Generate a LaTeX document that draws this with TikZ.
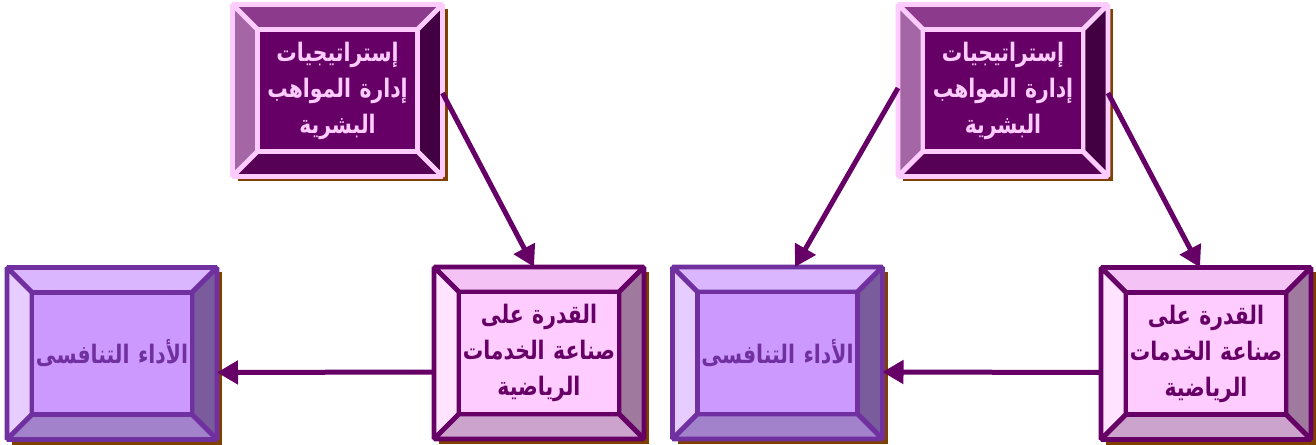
\documentclass[tikz,border=0pt]{standalone}
\usepackage{fontspec}
\newfontfamily\arabicfont[Script=Arabic,FakeStretch=0.8]{DejaVu Sans}
\TeXXeTstate=1
\usetikzlibrary{arrows.meta,backgrounds}

% colours of the three kinds of box
\definecolor{stedge}{HTML}{FFCCFF}
\definecolor{stin}{HTML}{660066}
\definecolor{sttop}{HTML}{8C3A8C}
\definecolor{stleft}{HTML}{A466A4}
\definecolor{stright}{HTML}{420042}
\definecolor{stbot}{HTML}{560056}
\definecolor{pfedge}{HTML}{7030A0}
\definecolor{pfin}{HTML}{CC99FF}
\definecolor{pftop}{HTML}{D9B6FF}
\definecolor{pfleft}{HTML}{E6CCFF}
\definecolor{pfright}{HTML}{7A5C9C}
\definecolor{pfbot}{HTML}{A382CC}
\definecolor{abedge}{HTML}{660066}
\definecolor{abin}{HTML}{FFCCFF}
\definecolor{abtop}{HTML}{F5C2F5}
\definecolor{ableft}{HTML}{FFE3FF}
\definecolor{abright}{HTML}{A07A9E}
\definecolor{abbot}{HTML}{CCA3CC}
\definecolor{shadowc}{HTML}{804000}
\definecolor{arrc}{HTML}{660066}

\tikzset{
  box/.style={rectangle,minimum width=3.2cm,minimum height=2.44cm,text width=3.2cm,inner sep=0pt,outer sep=5mm,
              line width=2.7pt,align=center,font=\arabicfont\bfseries\fontsize{14.5}{20.5}\selectfont},
  strat/.style={box,draw=stedge,fill=stin,text=stedge},
  perf/.style={box,draw=pfedge,fill=pfin,text=pfedge},
  abil/.style={box,draw=abedge,fill=abin,text=abedge},
  bev/.style={line width=2.7pt,line join=bevel},
  shadowfill/.style={fill=shadowc},
  arr/.style={-{Triangle[length=4.2mm,width=4.6mm]},line width=1mm,draw=arrc},
}

% bevel frame behind a box: node, edge, top, left, right, bottom
\newcommand{\bevelframe}[6]{%
  \begin{scope}[on background layer]
    \fill[shadowfill] ([shift={(0.1,-0.1)}]#1.south west) rectangle ([shift={(0.1,-0.1)}]#1.north east);
    \filldraw[bev,draw=#2,fill=#3] (#1.north west) -- (#1.north east)
      -- ([shift={(-0.5,-0.5)}]#1.north east) -- ([shift={(0.5,-0.5)}]#1.north west) -- cycle;
    \filldraw[bev,draw=#2,fill=#4] (#1.north west) -- (#1.south west)
      -- ([shift={(0.5,0.5)}]#1.south west) -- ([shift={(0.5,-0.5)}]#1.north west) -- cycle;
    \filldraw[bev,draw=#2,fill=#5] (#1.north east) -- (#1.south east)
      -- ([shift={(-0.5,0.5)}]#1.south east) -- ([shift={(-0.5,-0.5)}]#1.north east) -- cycle;
    \filldraw[bev,draw=#2,fill=#6] (#1.south west) -- (#1.south east)
      -- ([shift={(-0.5,0.5)}]#1.south east) -- ([shift={(0.5,0.5)}]#1.south west) -- cycle;
  \end{scope}}

\begin{document}
\begin{tikzpicture}
  \useasboundingbox (0,0) rectangle (26.32,-8.9);

  \node[strat] (s1) at (6.75,-1.81) {\beginR إستراتيجيات\endR\\ \beginR إدارة المواهب\endR\\ \beginR البشرية\endR};
  \node[strat] (s2) at (20.06,-1.81) {\beginR إستراتيجيات\endR\\ \beginR إدارة المواهب\endR\\ \beginR البشرية\endR};
  \node[perf] (p1) at (2.24,-7.07) {\beginR الأداء التنافسى\endR};
  \node[abil] (a1) at (10.78,-7.06) {\beginR القدرة على\endR\\ \beginR صناعة الخدمات\endR\\ \beginR الرياضية\endR};
  \node[perf] (p2) at (15.55,-7.06) {\beginR الأداء التنافسى\endR};
  \node[abil] (a2) at (24.12,-7.07) {\beginR القدرة على\endR\\ \beginR صناعة الخدمات\endR\\ \beginR الرياضية\endR};

  \bevelframe{s1}{stedge}{sttop}{stleft}{stright}{stbot}
  \bevelframe{s2}{stedge}{sttop}{stleft}{stright}{stbot}
  \bevelframe{p1}{pfedge}{pftop}{pfleft}{pfright}{pfbot}
  \bevelframe{p2}{pfedge}{pftop}{pfleft}{pfright}{pfbot}
  \bevelframe{a1}{abedge}{abtop}{ableft}{abright}{abbot}
  \bevelframe{a2}{abedge}{abtop}{ableft}{abright}{abbot}

  \draw[arr] ([yshift=-0.05cm]s1.east) -- ([xshift=-0.1cm]a1.north);
  \draw[arr] ([yshift=0.05cm]s2.west) -- ([xshift=0.35cm]p2.north);
  \draw[arr] ([yshift=-0.05cm]s2.east) -- ([xshift=-0.12cm]a2.north);
  \draw[arr] ([yshift=-0.38cm]a1.west) -- ([yshift=-0.38cm]p1.east);
  \draw[arr] ([yshift=-0.38cm]a2.west) -- ([yshift=-0.38cm]p2.east);
\end{tikzpicture}
\end{document}
